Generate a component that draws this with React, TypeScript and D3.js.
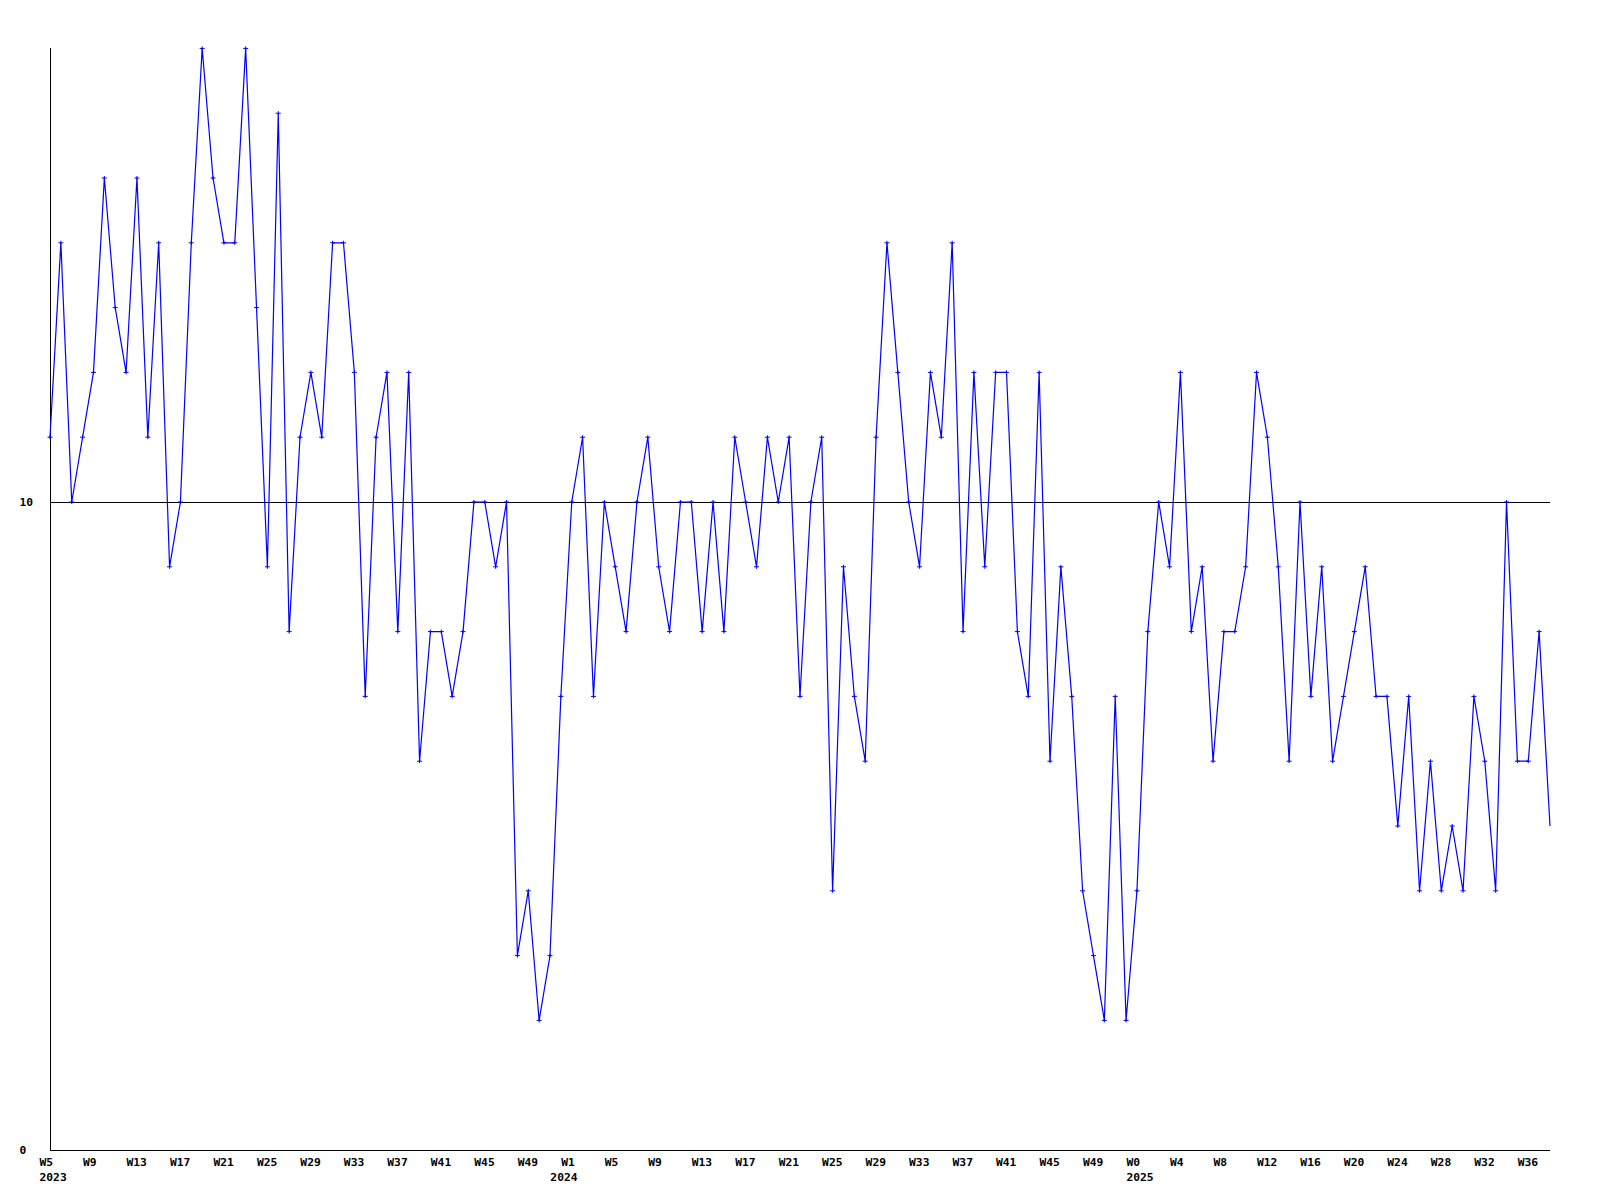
import React from "react";
import * as d3 from "d3";

// Weekly values, 2023 W5 .. 2025 W38
const values: number[] = [
  11, 14, 10, 11, 12, 15, 13, 12, 15, 11, 14, 9, 10, 14, 17, 15, 14, 14, 17, 13,
  9, 16, 8, 11, 12, 11, 14, 14, 12, 7, 11, 12, 8, 12, 6, 8, 8, 7, 8, 10,
  10, 9, 10, 3, 4, 2, 3, 7, 10, 11, 7, 10, 9, 8, 10, 11, 9, 8, 10, 10,
  8, 10, 8, 11, 10, 9, 11, 10, 11, 7, 10, 11, 4, 9, 7, 6, 11, 14, 12, 10,
  9, 12, 11, 14, 8, 12, 9, 12, 12, 8, 7, 12, 6, 9, 7, 4, 3, 2, 7, 2,
  4, 8, 10, 9, 12, 8, 9, 6, 8, 8, 9, 12, 11, 9, 6, 10, 7, 9, 6, 7,
  8, 9, 7, 7, 5, 7, 4, 6, 4, 5, 4, 7, 6, 4, 10, 6, 6, 8, 5,
];

// Week tick labels, one every 4 points
const weekLabels: string[] = [
  "W5", "W9", "W13", "W17", "W21", "W25", "W29", "W33", "W37", "W41", "W45", "W49",
  "W1", "W5", "W9", "W13", "W17", "W21", "W25", "W29", "W33", "W37", "W41", "W45", "W49",
  "W0", "W4", "W8", "W12", "W16", "W20", "W24", "W28", "W32", "W36",
];
const weekLabelStep = 4;

const yearLabels: string[] = ["2023", "2024", "2025"];
const yearLabelIndex: number[] = [0, 47, 100];

const yTicks: number[] = [0, 10];

const W = 1600;
const H = 1200;
const left = 50;
const right = 1550;
const bottom = 1150;
const top = 48.4;
const font = "'DejaVu Sans Mono', 'Liberation Mono', monospace";

export default function App() {
  const x = d3.scaleLinear().domain([0, values.length - 1]).range([left, right]);
  const y = d3.scaleLinear().domain([0, 17]).range([bottom, top]);
  const line = d3
    .line<number>()
    .x((_, i) => x(i))
    .y((d) => y(d));

  return (
    <svg
      width={W}
      height={H}
      style={{ position: "absolute", left: 0, top: 0, background: "#fff" }}
      xmlns="http://www.w3.org/2000/svg"
    >
      <rect x={0} y={0} width={W} height={H} fill="#fff" />
      {yTicks
        .filter((t) => t !== 0)
        .map((t) => (
          <line
            key={"g" + t}
            x1={left}
            x2={right}
            y1={Math.round(y(t)) + 0.5}
            y2={Math.round(y(t)) + 0.5}
            stroke="#000"
            strokeWidth={1}
            shapeRendering="crispEdges"
          />
        ))}
      <line x1={left + 0.5} x2={left + 0.5} y1={top} y2={bottom + 0.5} stroke="#000" strokeWidth={1} shapeRendering="crispEdges" />
      <line x1={left} x2={right} y1={bottom + 0.5} y2={bottom + 0.5} stroke="#000" strokeWidth={1} shapeRendering="crispEdges" />

      {yTicks.map((t) => (
        <text
          key={"y" + t}
          x={19.5}
          y={y(t) + 4}
          fontFamily={font}
          fontWeight="bold"
          fontSize={11.3}
          fill="#000"
        >
          {t}
        </text>
      ))}

      <path d={line(values) || ""} fill="none" stroke="#0000ff" strokeWidth={1.2} />
      {values.map((v, i) => {
        if (i === values.length - 1) return null;
        const cx = x(i);
        const cy = y(v);
        return (
          <g key={"m" + i} stroke="#0000ff" strokeWidth={1}>
            <line x1={cx - 2.5} x2={cx + 2.5} y1={cy} y2={cy} />
            <line x1={cx} x2={cx} y1={cy - 2} y2={cy + 2} />
          </g>
        );
      })}

      {weekLabels.map((l, k) => (
        <text
          key={"w" + k}
          x={x(k * weekLabelStep) - 10.5}
          y={1165.5}
          fontFamily={font}
          fontWeight="bold"
          fontSize={11.3}
          fill="#000"
        >
          {l}
        </text>
      ))}
      {yearLabels.map((l, k) => (
        <text
          key={"yr" + l}
          x={x(yearLabelIndex[k]) - 10.5}
          y={1180.5}
          fontFamily={font}
          fontWeight="bold"
          fontSize={11.3}
          fill="#000"
        >
          {l}
        </text>
      ))}
    </svg>
  );
}
